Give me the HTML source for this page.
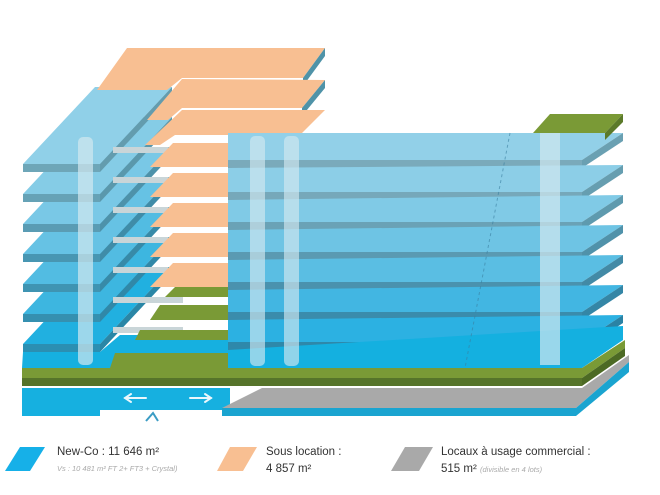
<!DOCTYPE html><html><head><meta charset="utf-8"><style>
html,body{margin:0;padding:0;background:#fff;width:660px;height:495px;overflow:hidden}
svg{display:block}
text{font-family:"Liberation Sans",sans-serif}
</style></head><body>
<svg width="660" height="495" viewBox="0 0 660 495" xmlns="http://www.w3.org/2000/svg">
<g id="L">
<polygon points="23,344 100,344 172,267 95,267" fill="#21b0e0"/><rect x="23" y="344" width="77" height="8" fill="#2b8fb2"/><polygon points="100,344 172,267 172,275 100,352" fill="#2a86a6"/>
<polygon points="23,314 100,314 172,237 95,237" fill="#3db6e0"/><rect x="23" y="314" width="77" height="8" fill="#3590b0"/><polygon points="100,314 172,237 172,245 100,322" fill="#3088a8"/>
<polygon points="23,284 100,284 172,207 95,207" fill="#52bce2"/><rect x="23" y="284" width="77" height="8" fill="#3f94b2"/><polygon points="100,284 172,207 172,215 100,292" fill="#378aa8"/>
<polygon points="23,254 100,254 172,177 95,177" fill="#66c2e4"/><rect x="23" y="254" width="77" height="8" fill="#4896b2"/><polygon points="100,254 172,177 172,185 100,262" fill="#3f8ca8"/>
<polygon points="23,224 100,224 172,147 95,147" fill="#79c8e6"/><rect x="23" y="224" width="77" height="8" fill="#5a9cb4"/><polygon points="100,224 172,147 172,155 100,232" fill="#4d92aa"/>
<polygon points="23,194 100,194 172,117 95,117" fill="#85cce6"/><rect x="23" y="194" width="77" height="8" fill="#66a2b6"/><polygon points="100,194 172,117 172,125 100,202" fill="#5a98ac"/>
<polygon points="23,164 100,164 172,87 95,87" fill="#90d0e8"/><rect x="23" y="164" width="77" height="8" fill="#6ea6b8"/><polygon points="100,164 172,87 172,95 100,172" fill="#639cae"/>
</g>
<polygon points="23,352 100,352 120,335 240,335 240,368 22,368" fill="#16b0e0"/>
<rect x="78" y="137" width="15" height="228" rx="5" fill="#d2e8f0" opacity="0.7"/>
<g fill="#c9d5d8">
<rect x="113" y="147" width="55" height="6"/><rect x="113" y="177" width="55" height="6"/><rect x="113" y="207" width="55" height="6"/><rect x="113" y="237" width="55" height="6"/><rect x="113" y="267" width="55" height="6"/><rect x="113" y="297" width="70" height="6"/><rect x="113" y="327" width="70" height="6"/>
</g>
<polygon points="175,287 240,287 240,297 165,297" fill="#7a9a36"/>
<polygon points="160,305 240,305 240,320 150,320" fill="#7a9a36"/>
<polygon points="140,330 240,330 240,340 135,340" fill="#7a9a36"/>
<polygon points="115,353 240,353 240,368 110,368" fill="#7a9a36"/>
<polygon points="97,90 127,48 325,48 303,78 182,78 167,90" fill="#f8bf92"/>
<polygon points="303,78 325,48 325,56 303,86" fill="#4f93a8"/>
<polygon points="182,79 325,80 302,108 182,108 168,120 147,120" fill="#f8bf92"/>
<polygon points="302,108 325,80 325,88 302,116" fill="#4f93a8"/>
<polygon points="182,110 325,110 300,135 175,135 160,145 145,145" fill="#f8bf92"/>
<g fill="#f8bf92">
<polygon points="150,167 240,167 240,143 173,143"/>
<polygon points="150,197 240,197 240,173 173,173"/>
<polygon points="150,227 240,227 240,203 173,203"/>
<polygon points="150,257 240,257 240,233 173,233"/>
<polygon points="150,287 240,287 240,263 173,263"/>
</g>
<g>
<polygon points="228,133 623,133 582,160 228,160" fill="#92d0e8"/><rect x="228" y="160" width="354" height="8" fill="#7aaabb"/><polygon points="582,160 623,133 623,141 582,168" fill="#6aa0b2"/>
<polygon points="228,168 623,165 582,192 228,192" fill="#8ccee7"/><rect x="228" y="192" width="354" height="8" fill="#76a8ba"/><polygon points="582,192 623,165 623,173 582,200" fill="#669eb0"/>
<polygon points="228,200 623,195 582,222 228,222" fill="#80cae6"/><rect x="228" y="222" width="354" height="8" fill="#6aa2b6"/><polygon points="582,222 623,195 623,203 582,230" fill="#5e9aae"/>
<polygon points="228,230 623,225 582,252 228,252" fill="#6ec4e4"/><rect x="228" y="252" width="354" height="8" fill="#5a9ab2"/><polygon points="582,252 623,225 623,233 582,260" fill="#5092aa"/>
<polygon points="228,260 623,255 582,282 228,282" fill="#5abee3"/><rect x="228" y="282" width="354" height="8" fill="#4a92ae"/><polygon points="582,282 623,255 623,263 582,290" fill="#428aa6"/>
<polygon points="228,290 623,285 582,312 228,312" fill="#42b6e2"/><rect x="228" y="312" width="354" height="8" fill="#3a8cac"/><polygon points="582,312 623,285 623,293 582,320" fill="#3486a6"/>
<polygon points="228,320 623,315 582,342 228,342" fill="#2cb1e2"/><rect x="228" y="342" width="354" height="8" fill="#2e88aa"/><polygon points="582,342 623,315 623,323 582,350" fill="#2a82a4"/>
<polygon points="228,350 623,326 623,340 582,368 228,368" fill="#14b0e0"/>
</g>
<line x1="510" y1="133" x2="465" y2="368" stroke="#3a7fa0" stroke-width="1" stroke-dasharray="3,3" opacity="0.6"/>
<rect x="250" y="136" width="15" height="230" rx="5" fill="#d2e8f0" opacity="0.65"/>
<rect x="284" y="136" width="15" height="230" rx="5" fill="#d2e8f0" opacity="0.65"/>
<rect x="540" y="128" width="20" height="237" fill="#d2e8f0" opacity="0.7"/>
<polygon points="550,114 623,114 605,133 533,133" fill="#7a9a36"/>
<polygon points="605,133 623,114 623,122 605,140" fill="#5b7a2a"/>
<polygon points="22,368 582,368 625,340 625,348 582,378 22,378" fill="#7a9a36"/>
<rect x="22" y="378" width="560" height="8" fill="#56742a"/>
<polygon points="582,378 625,348 625,356 582,386" fill="#4c6a24"/>
<polygon points="22,388 230,388 230,410 100,410 100,416 22,416" fill="#16b0e0"/>
<polygon points="222,408 262,388 582,388 629,355 629,362 576,408" fill="#a9a9a9"/>
<polygon points="222,408 576,408 629,362 629,372 576,416 222,416" fill="#1aa4d0"/>
<g stroke="#eaf7fc" stroke-width="2" fill="none" stroke-linecap="round">
<line x1="125" y1="398" x2="146" y2="398"/><polyline points="131,394 125,398 131,402"/>
<line x1="190" y1="398" x2="211" y2="398"/><polyline points="205,394 211,398 205,402"/>
</g>
<polyline points="146,421 153,413 158,421" stroke="#3b9cc4" stroke-width="2" fill="none"/>
<polygon points="20,447 45,447 30,471 5,471" fill="#16b0e8"/>
<text x="57" y="455" font-size="11.5" fill="#333">New-Co : 11 646 m²</text>
<text x="57" y="471" font-size="7.5" fill="#aaa" font-style="italic">Vs : 10 481 m² FT 2+ FT3 + Crystal)</text>
<polygon points="230,447 257,447 243,471 217,471" fill="#f8bf92"/>
<text x="266" y="455" font-size="11.5" fill="#333">Sous location :</text>
<text x="266" y="472" font-size="11.5" fill="#333">4 857 m²</text>
<polygon points="405,447 433,447 419,471 391,471" fill="#a9a9a9"/>
<text x="441" y="455" font-size="11.5" fill="#333">Locaux à usage commercial :</text>
<text x="441" y="472" font-size="11.5" fill="#333">515 m² <tspan font-size="7.5" fill="#aaa" font-style="italic">(divisible en 4 lots)</tspan></text>
</svg>
</body></html>
